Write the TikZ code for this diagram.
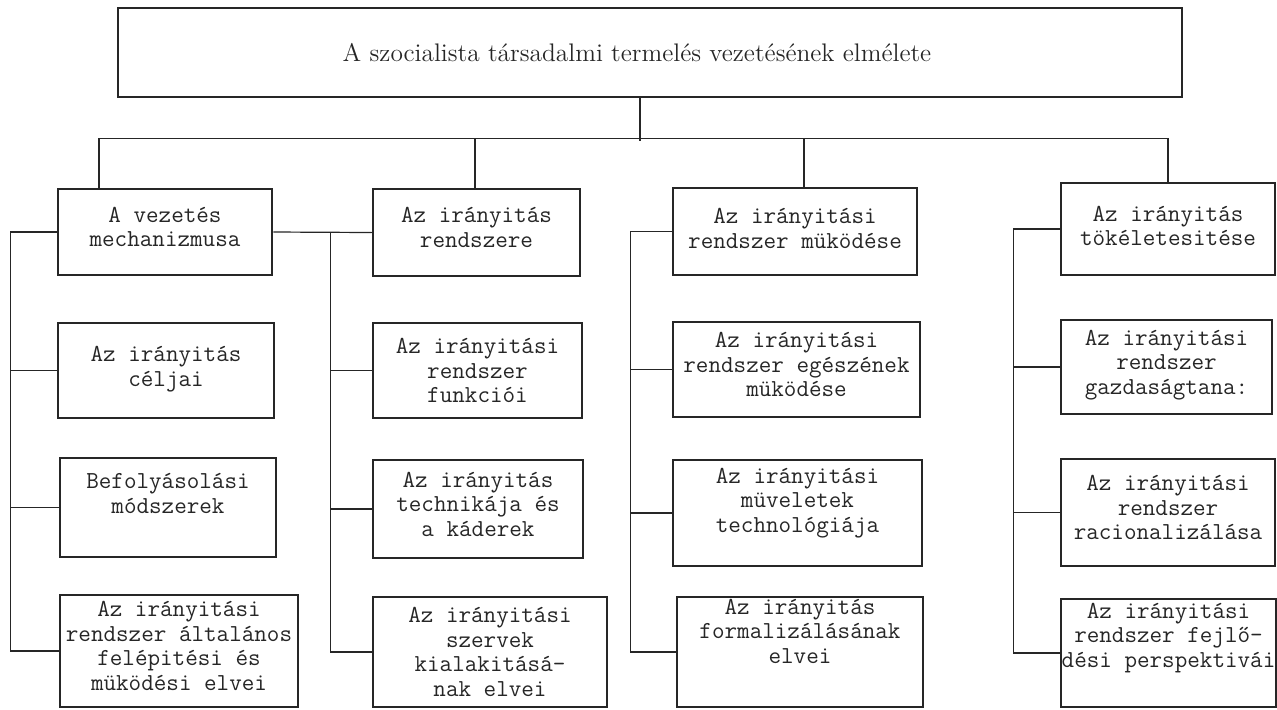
\documentclass[tikz,border=0pt]{standalone}
\usepackage{fontspec}
\usepackage{tikz}
\definecolor{ink}{HTML}{262626}

\begin{document}
\begin{tikzpicture}[x=0.5pt,y=-0.5pt,
every node/.style={draw=ink,line width=1.4pt,align=center,text=ink,inner sep=0pt,
  text depth=5pt,font=\ttfamily\fontsize{12.2}{12.3}\selectfont},
box/.style 2 args={minimum width=#1*0.5pt,minimum height=#2*0.5pt},
up/.style={text depth=#1pt},
conn/.style={ink,line width=0.6pt}]
\fill[white] (0,0) rectangle (1277,709);
\useasboundingbox (0,0) rectangle (1277,709);
\node[box={1064}{89},up=0,font=\rmfamily\fontsize{12.7}{14}\selectfont] (theory) at (650,52.5)
      {A szocialista társadalmi termelés vezetésének elmélete\hspace*{13pt}};
% first column
\node[box={214}{86}] (a1) at (165,232) {A vezetés\\mechanizmusa};
\node[box={216}{95},up=4] (a2) at (166,370.5) {Az irányitás\\céljai};
\node[box={216}{99},up=14] (a3) at (168,507.5) {Befolyásolási\\módszerek};
\node[box={238}{112}] (a4) at (179,651) {Az irányitási\\rendszer általános\\felépitési és\\müködési elvei};
% second column
\node[box={207}{87}] (b1) at (476.5,232.5) {Az irányitás\\rendszere};
\node[box={209}{95},up=0] (b2) at (477.5,370.5) {Az irányitási\\rendszer\\funkciói};
\node[box={210}{98}] (b3) at (478,509) {Az irányitás\\technikája és\\a káderek};
\node[box={234}{110},up=0] (b4) at (490,652) {Az irányitási\\szervek\\kialakitásá-\\nak elvei};
% third column
\node[box={244}{87},up=3] (c1) at (795,231.5) {Az irányitási\\rendszer müködése};
\node[box={247}{95}] (c2) at (796.5,369.5) {Az irányitási\\rendszer egészének\\müködése};
\node[box={249}{106},up=13] (c3) at (797.5,513) {Az irányitási\\müveletek\\technológiája};
\node[box={246}{110},up=21] (c4) at (800,652) {Az irányitás\\formalizálásának\\elvei};
% fourth column
\node[box={214}{92},up=3] (d1) at (1168,229) {Az irányitás\\tökéletesitése};
\node[box={211}{94}] (d2) at (1166.5,367) {Az irányitási\\rendszer\\gazdaságtana:};
\node[box={214}{107}] (d3) at (1168,512.5) {Az irányitási\\rendszer\\racionalizálása};
\node[box={215}{108},up=18] (d4) at (1168.5,653) {Az irányitási\\rendszer fejlő-\\dési perspektivái};
% connectors
\draw[conn] ([xshift=-5pt]theory.south) -- ++(0,43);
\draw[conn] ([xshift=-33pt]a1.north) -- ++(0,-49) -| (d1.north);
\draw[conn] ([xshift=-0.75pt]b1.north) -- ++(0,-49);
\draw[conn] ([xshift=4.5pt]c1.north) -- ++(0,-48);
\draw[conn] (a1.east) -- (b1.west);
\foreach \n in {a2,a3,a4} \draw[conn] (a1.west) -- ++(-46,0) |- (\n.west);
\foreach \n in {b2,b3,b4} \draw[conn] (b1.west) -- ++(-41,0) |- (\n.west);
\foreach \n in {c2,c3,c4} \draw[conn] (c1.west) -- ++(-41,0) |- (\n.west);
\foreach \n in {d2,d3,d4} \draw[conn] (d1.west) -- ++(-46,0) |- (\n.west);
\end{tikzpicture}
\end{document}
